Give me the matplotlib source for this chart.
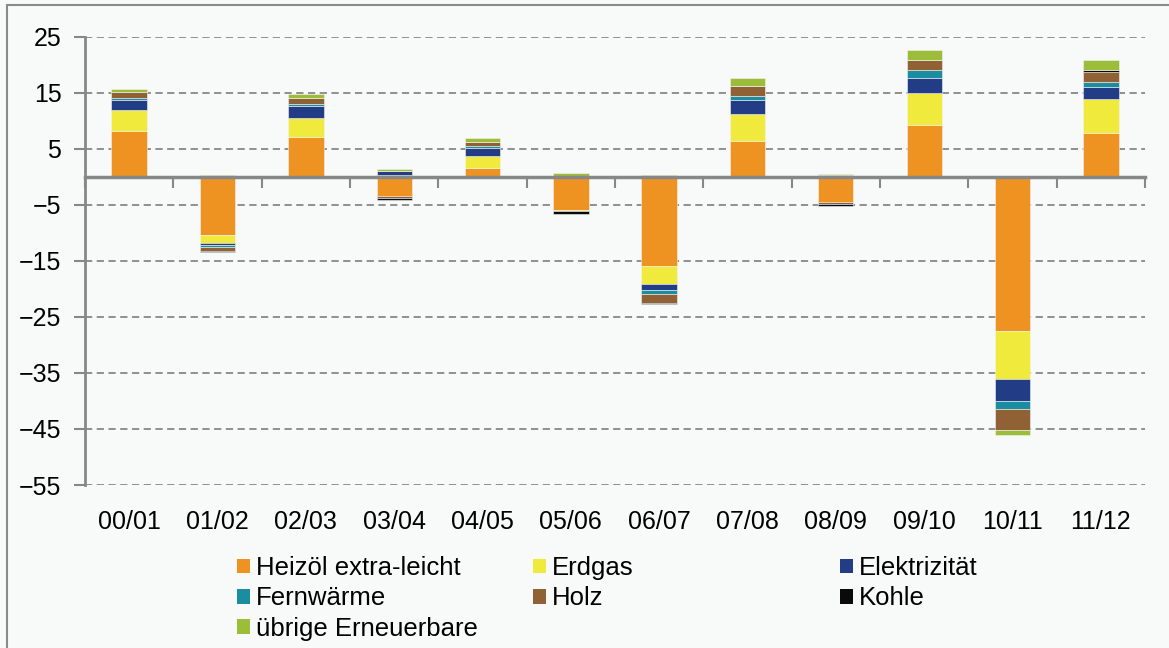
import numpy as np
import matplotlib.pyplot as plt
from matplotlib.patches import Rectangle, Patch

plt.rcParams['font.family'] = ['Liberation Sans', 'DejaVu Sans']

years = ['00/01', '01/02', '02/03', '03/04', '04/05', '05/06',
         '06/07', '07/08', '08/09', '09/10', '10/11', '11/12']

heizoel = [8.3, -10.3, 7.2, -3.4, 1.55, -5.9, -15.9, 6.5, -4.5, 9.3, -27.5, 7.9]
erdgas = [3.6, -1.4, 3.3, 0.4, 2.15, -0.25, -3.2, 4.7, 0.0, 5.75, -8.6, 6.1]
elektrizitaet = [1.8, -0.4, 2.1, 0.6, 1.45, 0.0, -1.0, 2.5, 0.0, 2.6, -3.95, 2.15]
fernwaerme = [0.4, -0.35, 0.35, 0.1, 0.35, 0.0, -0.8, 0.8, 0.3, 1.4, -1.45, 0.8]
holz = [1.0, -0.7, 1.1, -0.35, 0.7, 0.0, -1.55, 1.8, -0.36, 1.8, -3.6, 1.75]
kohle = [0.0, -0.3, 0.0, -0.3, 0.0, -0.5, -0.25, 0.0, -0.36, 0.0, 0.0, 0.36]
uebrige = [0.7, 0.4, 0.7, 0.3, 0.7, 0.7, 0.4, 1.45, 0.2, 1.8, -0.95, 1.8]

names = ['Heizöl extra-leicht', 'Erdgas', 'Elektrizität', 'Fernwärme',
         'Holz', 'Kohle', 'übrige Erneuerbare']
series = [heizoel, erdgas, elektrizitaet, fernwaerme, holz, kohle, uebrige]
colors = ['#EE9222', '#EFEA3C', '#233C86', '#1A8EA0', '#906134', '#0A0A0A', '#9CBD3A']

bg = '#F8F9F9'
grey = '#878787'

fig = plt.figure(figsize=(11.69, 6.48), dpi=100, facecolor=bg)
ax = fig.add_axes([85/1169, 1-485/648, 1060/1169, 448/648], facecolor=bg)

x = np.arange(len(years))
pos = np.zeros(len(years))
neg = np.zeros(len(years))
for vals, c in zip(series, colors):
    v = np.array(vals)
    bottom = np.where(v >= 0, pos, neg)
    ax.bar(x, v, 0.4, bottom=bottom, color=c, edgecolor='#f3f3f3', linewidth=0.4, zorder=3)
    pos += np.where(v >= 0, v, 0)
    neg += np.where(v < 0, v, 0)

ax.set_xlim(-0.5, 11.5)
ax.set_ylim(-55, 25)
ax.set_yticks(np.arange(-55, 26, 10))
ax.yaxis.grid(True, linestyle=(0, (4, 2.5)), color=grey, linewidth=1.3, zorder=0)
ax.tick_params(axis='y', direction='out', length=8, width=1.5, color=grey,
               labelsize=18, pad=9)

for s in ['top', 'right']:
    ax.spines[s].set_visible(False)
ax.spines['left'].set_color(grey)
ax.spines['left'].set_linewidth(2)
ax.spines['bottom'].set_position(('data', 0))
ax.spines['bottom'].set_color(grey)
ax.spines['bottom'].set_linewidth(2.5)
ax.spines['bottom'].set_zorder(4)
ax.set_xticks(np.arange(-0.5, 12, 1), labels=[''] * 13)
ax.tick_params(axis='x', direction='out', length=8, width=1.5, color=grey)

sec = ax.secondary_xaxis('bottom')
sec.set_xticks(x, labels=years)
sec.tick_params(length=0, pad=18, labelsize=18)
sec.spines['bottom'].set_visible(False)

# legend laid out as three columns, filled row by row
handles = [Patch(facecolor=c, edgecolor='none') for c in colors]
cols = [[0, 3, 6], [1, 4], [2, 5]]
xs = [237, 533, 840]
for xi, idx in zip(xs, cols):
    leg = fig.legend([handles[i] for i in idx], [names[i] for i in idx],
                     loc='upper left', bbox_to_anchor=(xi/1169, 1-556/648),
                     frameon=False, fontsize=18.5, handlelength=0.5, handleheight=0.5,
                     handletextpad=0.25, labelspacing=0.25, borderaxespad=0,
                     borderpad=0)

fig.add_artist(Rectangle((7/1169, -0.02), 1.1, 1-5/648+0.02, transform=fig.transFigure,
                         fill=False, edgecolor='#8a8a8a', linewidth=1.5))

fig.savefig('out.png', dpi=100, facecolor=bg)
